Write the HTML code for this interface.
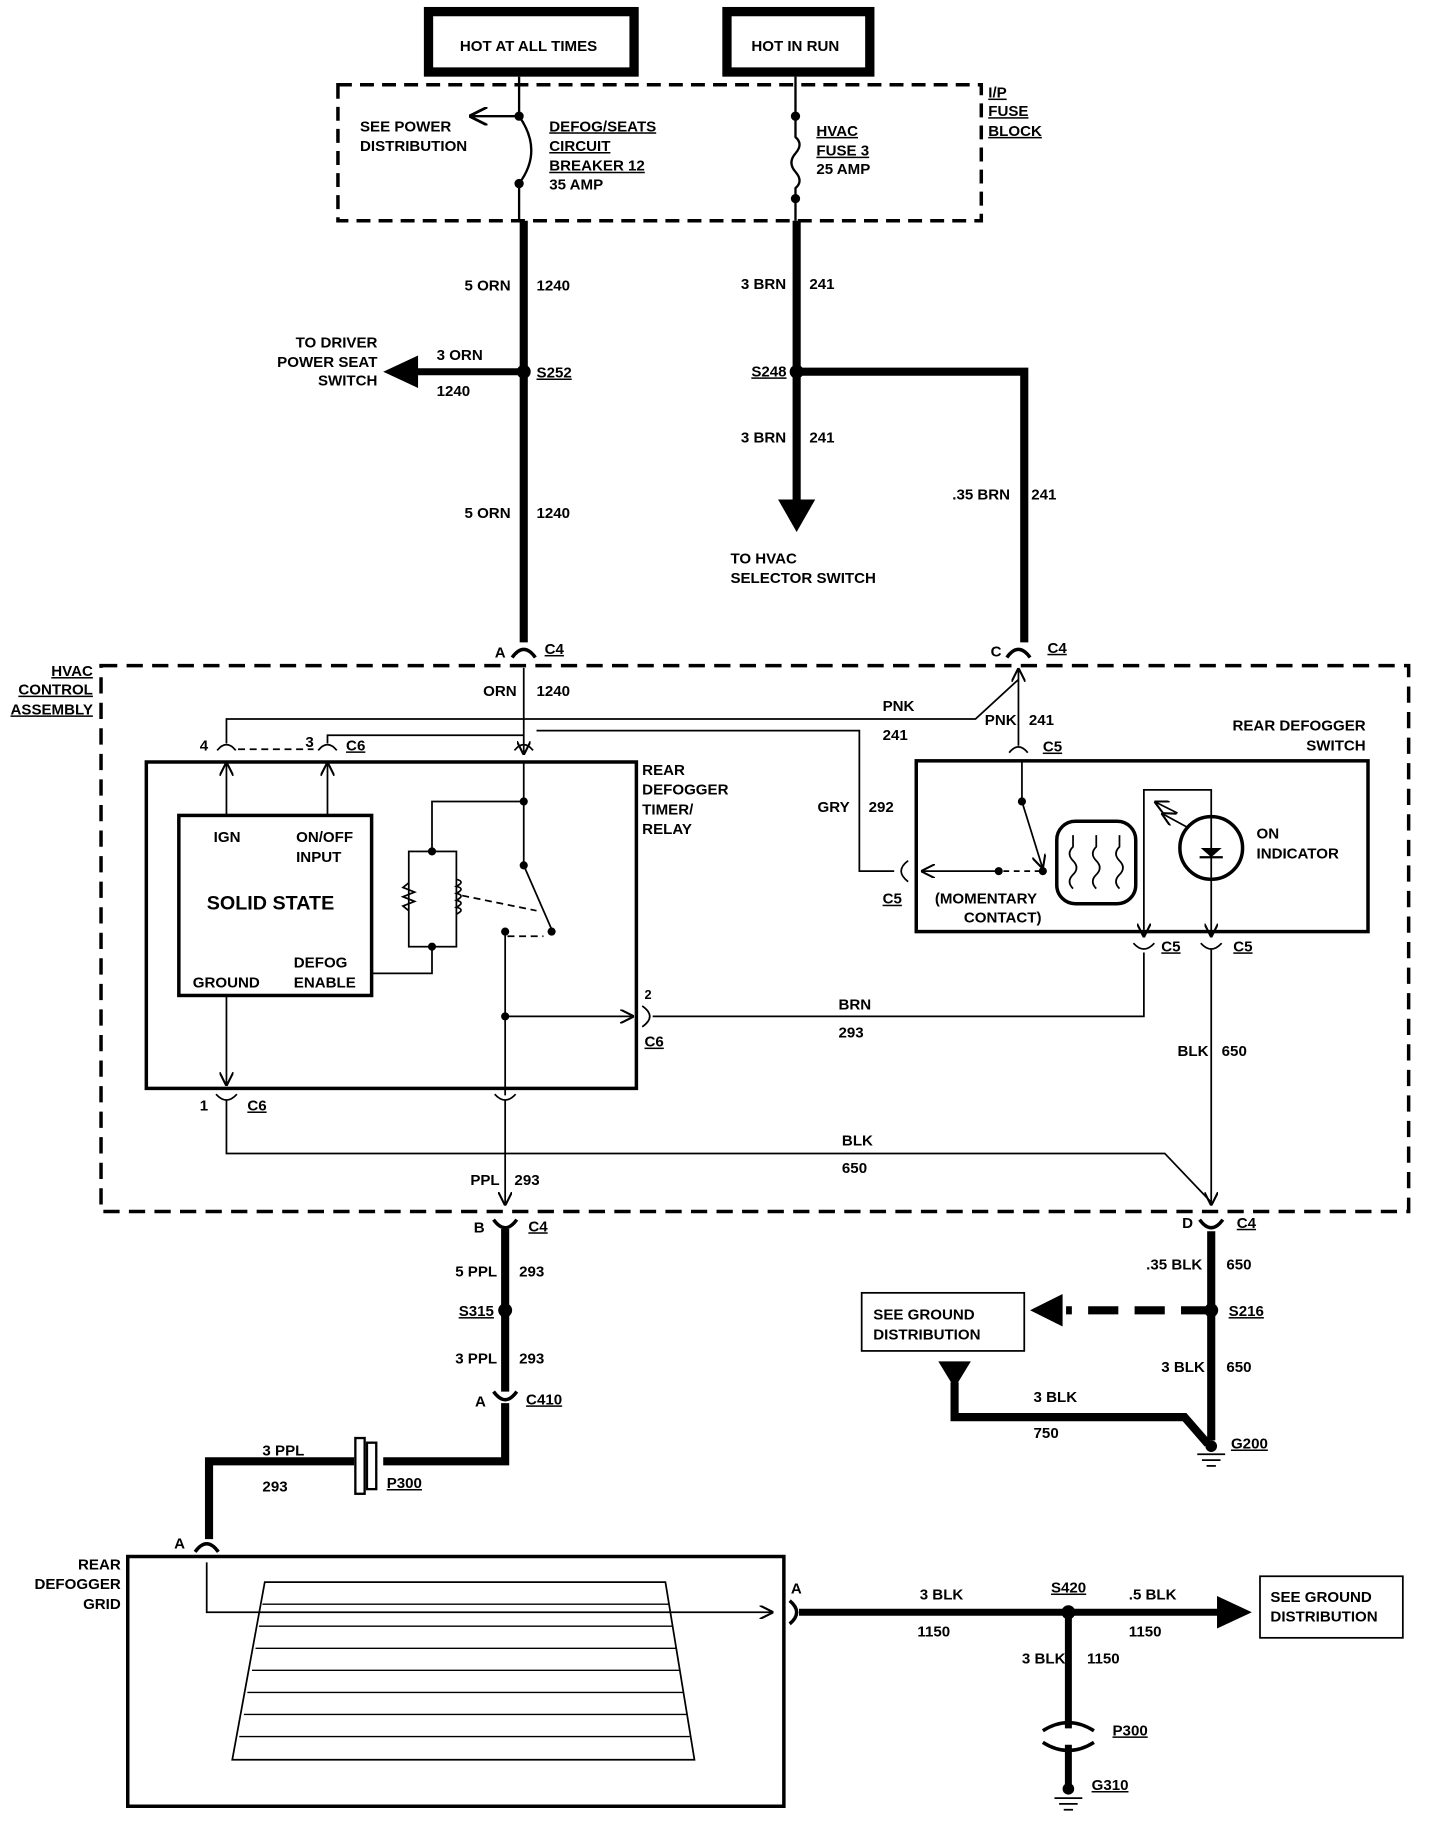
<!DOCTYPE html>
<html><head><meta charset="utf-8"><style>
html,body{margin:0;padding:0;background:#fff;}
svg{display:block;}
text{font-family:"Liberation Sans",sans-serif;font-size:13px;font-weight:bold;fill:#000;}
.u{text-decoration:underline;}
</style></head><body>
<svg width="1440" height="1826" viewBox="0 0 1240 1572" preserveAspectRatio="none" xmlns="http://www.w3.org/2000/svg">
<defs>
<marker id="ah" viewBox="0 0 10 10" refX="10" refY="5" markerWidth="8" markerHeight="8" orient="auto"><path d="M0,0 L10,5 L0,10" fill="none" stroke="#000" stroke-width="1.5"/></marker>
</defs>
<g fill="none" stroke="#000">
<!-- top boxes -->
<rect x="369" y="10" width="177" height="52" stroke-width="8"/>
<rect x="626" y="10" width="123" height="52" stroke-width="8"/>
<!-- fuse block -->
<rect x="291" y="73" width="554" height="117" stroke-width="3" stroke-dasharray="12,7"/>
<line x1="447" y1="66" x2="447" y2="100" stroke-width="2"/>
<line x1="447" y1="100" x2="404" y2="100" stroke-width="2" marker-end="url(#ah)"/>
<path d="M447,100 Q468,130 447,158" stroke-width="2"/>
<line x1="447" y1="158" x2="447" y2="190" stroke-width="2"/>
<line x1="685" y1="66" x2="685" y2="100" stroke-width="2"/>
<path d="M685,100 L685,118 Q692,124 685,132 Q678,140 685,148 Q692,156 685,162 L685,190" stroke-width="2"/>
<!-- left thick -->
<line x1="451" y1="190" x2="451" y2="553" stroke-width="7"/>
<line x1="451" y1="320" x2="355" y2="320" stroke-width="6"/>
<!-- right thick -->
<line x1="686" y1="190" x2="686" y2="432" stroke-width="7"/>
<polyline points="686,320 882,320 882,553" stroke-width="7"/>
<!-- hvac box -->
<rect x="87" y="573" width="1126" height="470" stroke-width="3" stroke-dasharray="14,8"/>
<!-- C4 A & C connectors -->
<path d="M441,566 Q451,552 461,566" stroke-width="3"/>
<path d="M867,566 Q877,552 887,566" stroke-width="3"/>
<!-- thin wires inside -->
<line x1="451" y1="575" x2="451" y2="650" stroke-width="1.5" marker-end="url(#ah)"/>
<polyline points="195,640 195,619 840,619 877,585" stroke-width="1.5"/>
<line x1="877" y1="585" x2="877" y2="575" stroke-width="1.5" marker-end="url(#ah)"/>
<polyline points="462,629 740,629 740,750 770,750" stroke-width="1.5"/>
<polyline points="282,640 282,633 451,633" stroke-width="1.5"/>
<path d="M187,646 Q195,636 203,646" stroke-width="1.5"/>
<path d="M274,646 Q282,636 290,646" stroke-width="1.5"/>
<path d="M443,646 Q451,636 459,646" stroke-width="1.5"/>
<path d="M869,648 Q877,638 885,648" stroke-width="1.5"/>
<line x1="877" y1="585" x2="877" y2="642" stroke-width="1.5"/>
<line x1="205" y1="645" x2="270" y2="645" stroke-width="1.5" stroke-dasharray="6,4"/>
<!-- timer box -->
<rect x="126" y="656" width="422" height="281" stroke-width="3"/>
<rect x="154" y="702" width="166" height="155" stroke-width="3"/>
<line x1="195" y1="702" x2="195" y2="656" stroke-width="1.5" marker-end="url(#ah)"/>
<line x1="282" y1="702" x2="282" y2="656" stroke-width="1.5" marker-end="url(#ah)"/>
<line x1="451" y1="656" x2="451" y2="745" stroke-width="1.5"/>
<line x1="451" y1="745" x2="475" y2="800" stroke-width="1.5"/>
<polyline points="451,690 372,690 372,733" stroke-width="1.5"/>
<rect x="352" y="733" width="41" height="82" stroke-width="1.5"/>
<path d="M352,760 l-5,4 l10,4 l-10,4 l10,4 l-10,4 l5,4" stroke-width="1.5"/>
<path d="M393,757 q8,2 0,6 q8,2 0,6 q8,2 0,6 q8,2 0,6 q8,2 0,6" stroke-width="1.5"/>
<polyline points="372,815 372,838 320,838" stroke-width="1.5"/>
<line x1="398" y1="771" x2="462" y2="784" stroke-width="1.5" stroke-dasharray="6,4"/>
<line x1="437" y1="806" x2="468" y2="806" stroke-width="1.5" stroke-dasharray="6,4"/>
<line x1="435" y1="802" x2="435" y2="943" stroke-width="1.5"/>
<line x1="435" y1="875" x2="546" y2="875" stroke-width="1.5" marker-end="url(#ah)"/>
<path d="M553,866 Q566,875 553,884" stroke-width="1.5"/>
<polyline points="562,875 985,875 985,820" stroke-width="1.5"/>
<line x1="195" y1="857" x2="195" y2="935" stroke-width="1.5" marker-end="url(#ah)"/>
<path d="M186,942 Q195,952 204,942" stroke-width="1.5"/>
<path d="M426,942 Q435,952 444,942" stroke-width="1.5"/>
<polyline points="195,947 195,993 1003,993 1043,1035" stroke-width="1.5"/>
<line x1="435" y1="947" x2="435" y2="1038" stroke-width="1.5" marker-end="url(#ah)"/>
<!-- switch box -->
<rect x="789" y="655" width="389" height="147" stroke-width="3"/>
<line x1="880" y1="655" x2="880" y2="690" stroke-width="1.5"/>
<line x1="880" y1="690" x2="898" y2="748" stroke-width="1.5" marker-end="url(#ah)"/>
<line x1="860" y1="750" x2="793" y2="750" stroke-width="1.5" marker-end="url(#ah)"/>
<line x1="864" y1="750" x2="895" y2="750" stroke-width="1.5" stroke-dasharray="5,4"/>
<path d="M782,741 Q770,750 782,759" stroke-width="1.5"/>
<rect x="910" y="707" width="68" height="71" rx="16" stroke-width="3"/>
<path d="M924,765 q-6,-6 0,-12 q6,-6 0,-12 q-6,-6 0,-12 l0,-10 M944,765 q-6,-6 0,-12 q6,-6 0,-12 q-6,-6 0,-12 l0,-10 M964,765 q-6,-6 0,-12 q6,-6 0,-12 q-6,-6 0,-12 l0,-10" stroke-width="1.5"/>
<polyline points="985,800 985,680 1043,680 1043,703" stroke-width="1.5"/>
<circle cx="1043" cy="730" r="27" stroke-width="3"/>
<line x1="1043" y1="703" x2="1043" y2="757" stroke-width="1.5"/>
<line x1="1033" y1="738" x2="1053" y2="738" stroke-width="2"/>
<line x1="1022" y1="712" x2="1000" y2="700" stroke-width="1.5" marker-end="url(#ah)"/>
<line x1="1014" y1="700" x2="994" y2="690" stroke-width="1.5" marker-end="url(#ah)"/>
<line x1="985" y1="800" x2="985" y2="807" stroke-width="1.5" marker-end="url(#ah)"/>
<line x1="1043" y1="757" x2="1043" y2="807" stroke-width="1.5" marker-end="url(#ah)"/>
<path d="M976,812 Q985,822 994,812" stroke-width="1.5"/>
<path d="M1034,812 Q1043,822 1052,812" stroke-width="1.5"/>
<line x1="1043" y1="817" x2="1043" y2="1038" stroke-width="1.5" marker-end="url(#ah)"/>
<!-- bottom connectors -->
<path d="M425,1050 Q435,1064 445,1050" stroke-width="3"/>
<path d="M1033,1050 Q1043,1064 1053,1050" stroke-width="3"/>
<line x1="435" y1="1058" x2="435" y2="1198" stroke-width="7"/>
<path d="M425,1198 Q435,1212 445,1198" stroke-width="3"/>
<polyline points="435,1208 435,1258 330,1258" stroke-width="7"/>
<polyline points="305,1258 180,1258 180,1325" stroke-width="7"/>
<rect x="306" y="1238" width="8" height="48" stroke-width="2"/>
<rect x="316" y="1242" width="8" height="40" stroke-width="2"/>
<path d="M168,1336 Q178,1322 188,1336" stroke-width="3"/>
<!-- grid -->
<rect x="110" y="1340" width="565" height="215" stroke-width="3"/>
<polyline points="178,1345 178,1388 666,1388" stroke-width="1.5" marker-end="url(#ah)"/>
<polygon points="228,1362 573,1362 598,1515 200,1515" stroke-width="1.5"/>
<g stroke-width="1.2">
<line x1="226" y1="1381" x2="576" y2="1381"/><line x1="223" y1="1400" x2="579" y2="1400"/><line x1="220" y1="1419" x2="582" y2="1419"/><line x1="217" y1="1438" x2="585" y2="1438"/><line x1="213" y1="1457" x2="588" y2="1457"/><line x1="210" y1="1476" x2="591" y2="1476"/><line x1="206" y1="1495" x2="594" y2="1495"/>
</g>
<path d="M680,1378 Q692,1388 680,1398" stroke-width="3"/>
<line x1="688" y1="1388" x2="1050" y2="1388" stroke-width="6"/>
<line x1="920" y1="1388" x2="920" y2="1488" stroke-width="6"/>
<path d="M898,1490 Q920,1476 942,1490 M898,1500 Q920,1514 942,1500" stroke-width="3"/>
<line x1="920" y1="1502" x2="920" y2="1540" stroke-width="6"/>
<line x1="908" y1="1548" x2="932" y2="1548" stroke-width="1.5"/><line x1="912" y1="1553" x2="928" y2="1553" stroke-width="1.5"/><line x1="916" y1="1558" x2="924" y2="1558" stroke-width="1.5"/>
<rect x="1085" y="1357" width="123" height="53" stroke-width="1.5"/>
<!-- ground right -->
<line x1="1043" y1="1060" x2="1043" y2="1240" stroke-width="7"/>
<line x1="1043" y1="1128" x2="918" y2="1128" stroke-width="7" stroke-dasharray="26,14"/>
<rect x="742" y="1113" width="140" height="50" stroke-width="1.5"/>
<polyline points="822,1190 822,1220 1020,1220 1040,1243" stroke-width="7"/>
<line x1="1031" y1="1252" x2="1055" y2="1252" stroke-width="1.5"/><line x1="1035" y1="1257" x2="1051" y2="1257" stroke-width="1.5"/><line x1="1039" y1="1262" x2="1047" y2="1262" stroke-width="1.5"/>
</g>
<g fill="#000">
<circle cx="447" cy="100" r="4"/><circle cx="447" cy="158" r="4"/><circle cx="685" cy="100" r="4"/><circle cx="685" cy="171" r="4"/>
<circle cx="451" cy="320" r="6"/><circle cx="686" cy="320" r="6"/>
<polygon points="330,320 360,306 360,334"/>
<polygon points="670,430 702,430 686,458"/>
<circle cx="451" cy="690" r="3.5"/><circle cx="451" cy="745" r="3.5"/><circle cx="475" cy="802" r="3.5"/><circle cx="372" cy="733" r="3.5"/><circle cx="372" cy="815" r="3.5"/><circle cx="435" cy="802" r="3.5"/><circle cx="435" cy="875" r="3.5"/>
<circle cx="880" cy="690" r="3.5"/><circle cx="860" cy="750" r="3.5"/><circle cx="898" cy="750" r="3.5"/>
<polygon points="1034,730 1052,730 1043,738"/>
<circle cx="435" cy="1128" r="6"/><circle cx="920" cy="1388" r="6"/><circle cx="1043" cy="1128" r="6"/><circle cx="1043" cy="1245" r="5"/><circle cx="920" cy="1540" r="5"/>
<polygon points="1048,1374 1078,1388 1048,1402"/>
<polygon points="887,1128 915,1114 915,1142"/>
<polygon points="808,1172 836,1172 822,1195"/>
</g>
<g>
<text x="396" y="44">HOT AT ALL TIMES</text>
<text x="647" y="44">HOT IN RUN</text>
<text x="851" y="84" class="u">I/P</text><text x="851" y="100" class="u">FUSE</text><text x="851" y="117" class="u">BLOCK</text>
<text x="310" y="113">SEE POWER</text><text x="310" y="130">DISTRIBUTION</text>
<text x="473" y="113" class="u">DEFOG/SEATS</text><text x="473" y="130" class="u">CIRCUIT</text><text x="473" y="147" class="u">BREAKER 12</text><text x="473" y="163">35 AMP</text>
<text x="703" y="117" class="u">HVAC</text><text x="703" y="134" class="u">FUSE 3</text><text x="703" y="150">25 AMP</text>
<text x="400" y="250">5 ORN</text><text x="462" y="250">1240</text>
<text x="638" y="249">3 BRN</text><text x="697" y="249">241</text>
<text x="325" y="299" text-anchor="end">TO DRIVER</text><text x="325" y="316" text-anchor="end">POWER SEAT</text><text x="325" y="332" text-anchor="end">SWITCH</text>
<text x="376" y="310">3 ORN</text><text x="376" y="341">1240</text>
<text x="462" y="325" class="u">S252</text><text x="647" y="324" class="u">S248</text>
<text x="638" y="381">3 BRN</text><text x="697" y="381">241</text>
<text x="400" y="446">5 ORN</text><text x="462" y="446">1240</text>
<text x="820" y="430">.35 BRN</text><text x="888" y="430">241</text>
<text x="629" y="485">TO HVAC</text><text x="629" y="502">SELECTOR SWITCH</text>
<text x="426" y="566">A</text><text x="469" y="563" class="u">C4</text>
<text x="853" y="565">C</text><text x="902" y="562" class="u">C4</text>
<text x="80" y="582" text-anchor="end" class="u">HVAC</text><text x="80" y="598" text-anchor="end" class="u">CONTROL</text><text x="80" y="615" text-anchor="end" class="u">ASSEMBLY</text>
<text x="416" y="599">ORN</text><text x="462" y="599">1240</text>
<text x="760" y="612">PNK</text><text x="760" y="637">241</text>
<text x="848" y="624">PNK</text><text x="886" y="624">241</text>
<text x="1176" y="629" text-anchor="end">REAR DEFOGGER</text><text x="1176" y="646" text-anchor="end">SWITCH</text>
<text x="172" y="646">4</text><text x="263" y="643">3</text><text x="298" y="646" class="u">C6</text>
<text x="898" y="647" class="u">C5</text>
<text x="553" y="667">REAR</text><text x="553" y="684">DEFOGGER</text><text x="553" y="701">TIMER/</text><text x="553" y="718">RELAY</text>
<text x="704" y="699">GRY</text><text x="748" y="699">292</text>
<text x="184" y="725">IGN</text><text x="255" y="725">ON/OFF</text><text x="255" y="742">INPUT</text>
<text x="178" y="783" style="font-size:17px">SOLID STATE</text>
<text x="166" y="850">GROUND</text><text x="253" y="833">DEFOG</text><text x="253" y="850">ENABLE</text>
<text x="1082" y="722">ON</text><text x="1082" y="739">INDICATOR</text>
<text x="760" y="778" class="u">C5</text>
<text x="805" y="778">(MOMENTARY</text><text x="830" y="794">CONTACT)</text>
<text x="1000" y="819" class="u">C5</text><text x="1062" y="819" class="u">C5</text>
<text x="555" y="860" style="font-size:11px">2</text><text x="555" y="901" class="u">C6</text>
<text x="722" y="869">BRN</text><text x="722" y="893">293</text>
<text x="1014" y="909">BLK</text><text x="1052" y="909">650</text>
<text x="172" y="956">1</text><text x="213" y="956" class="u">C6</text>
<text x="725" y="986">BLK</text><text x="725" y="1010">650</text>
<text x="405" y="1020">PPL</text><text x="443" y="1020">293</text>
<text x="408" y="1061">B</text><text x="455" y="1060" class="u">C4</text>
<text x="1018" y="1057">D</text><text x="1065" y="1057" class="u">C4</text>
<text x="392" y="1099">5 PPL</text><text x="447" y="1099">293</text>
<text x="987" y="1093">.35 BLK</text><text x="1056" y="1093">650</text>
<text x="395" y="1133" class="u">S315</text><text x="1058" y="1133" class="u">S216</text>
<text x="752" y="1136">SEE GROUND</text><text x="752" y="1153">DISTRIBUTION</text>
<text x="392" y="1174">3 PPL</text><text x="447" y="1174">293</text>
<text x="1000" y="1181">3 BLK</text><text x="1056" y="1181">650</text>
<text x="890" y="1207">3 BLK</text><text x="890" y="1238">750</text>
<text x="409" y="1211">A</text><text x="453" y="1209" class="u">C410</text>
<text x="1060" y="1247" class="u">G200</text>
<text x="226" y="1253">3 PPL</text><text x="226" y="1284">293</text>
<text x="333" y="1281" class="u">P300</text>
<text x="150" y="1333">A</text>
<text x="104" y="1351" text-anchor="end">REAR</text><text x="104" y="1368" text-anchor="end">DEFOGGER</text><text x="104" y="1385" text-anchor="end">GRID</text>
<text x="681" y="1372">A</text>
<text x="792" y="1377">3 BLK</text><text x="790" y="1409">1150</text>
<text x="905" y="1371" class="u">S420</text>
<text x="972" y="1377">.5 BLK</text><text x="972" y="1409">1150</text>
<text x="1094" y="1379">SEE GROUND</text><text x="1094" y="1396">DISTRIBUTION</text>
<text x="880" y="1432">3 BLK</text><text x="936" y="1432">1150</text>
<text x="958" y="1494" class="u">P300</text>
<text x="940" y="1541" class="u">G310</text>
</g>
</svg>
</body></html>
